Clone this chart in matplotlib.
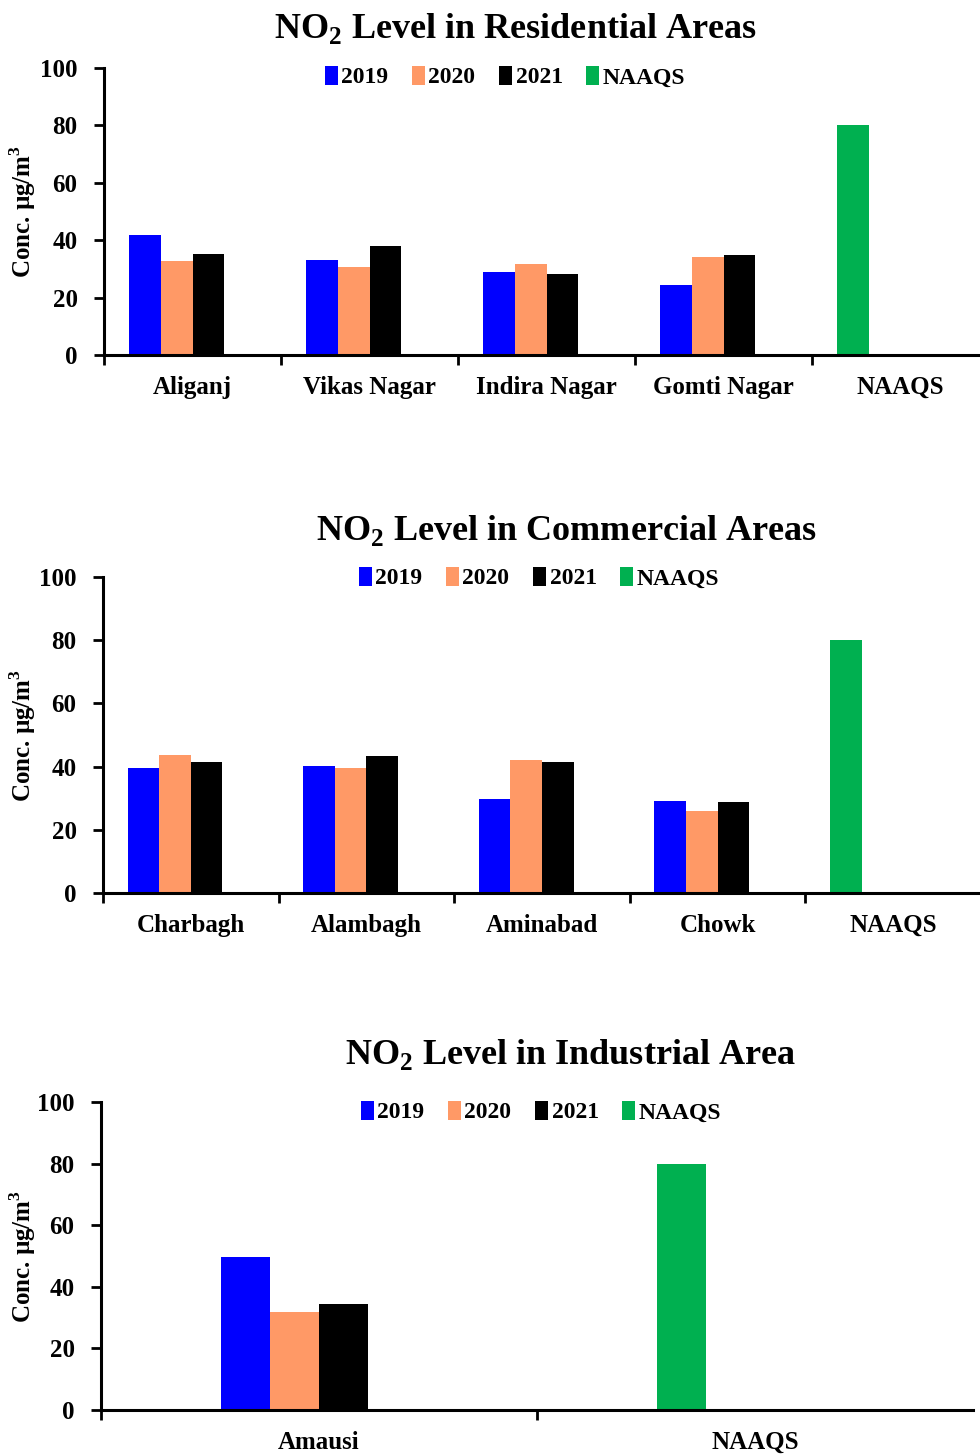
import matplotlib.pyplot as plt
import numpy as np

plt.rcParams['font.family'] = ['Liberation Serif', 'DejaVu Serif']
plt.rcParams['font.weight'] = 'bold'
plt.rcParams['mathtext.fontset'] = 'custom'
plt.rcParams['mathtext.rm'] = 'Liberation Serif'
plt.rcParams['mathtext.bf'] = 'Liberation Serif:bold'

years = ['2019', '2020', '2021']
colors = ['#0000FF', '#FF9966', '#000000']
naaqs_color = '#00B050'
naaqs_limit = 80

# residential areas
res_sites = ['Aliganj', 'Vikas Nagar', 'Indira Nagar', 'Gomti Nagar']
res_2019 = [41.8, 33.0, 28.9, 24.3]
res_2020 = [32.7, 30.6, 31.7, 34.1]
res_2021 = [35.2, 37.9, 28.1, 35.0]

# commercial areas
com_sites = ['Charbagh', 'Alambagh', 'Aminabad', 'Chowk']
com_2019 = [39.7, 40.2, 29.7, 29.2]
com_2020 = [43.6, 39.6, 42.0, 25.9]
com_2021 = [41.6, 43.5, 41.6, 28.7]

# industrial area
ind_sites = ['Amausi']
ind_2019 = [49.7]
ind_2020 = [31.9]
ind_2021 = [34.4]

W, H = 980, 1454
fig = plt.figure(figsize=(W / 100, H / 100), dpi=100)


def px_axes(left, top, right, bottom):
    ax = fig.add_axes([left / W, 1 - bottom / H, (right - left) / W, (bottom - top) / H])
    ax.yaxis.set_label_coords((38 - left) / (right - left), 0.5)
    return ax


def draw_panel(ax, sites, series, title, title_xy, legend_xy, bw):
    cats = sites + ['NAAQS']
    x = np.arange(len(cats))
    offsets = (np.arange(4) - 1.5) * bw
    handles = []
    for i, vals in enumerate(series):
        h = ax.bar(x[:-1] + offsets[i], vals, bw, color=colors[i], label=years[i])
        handles.append(h)
    # the standard sits in the first slot of its own group
    h = ax.bar(x[-1] + offsets[0], naaqs_limit, bw, color=naaqs_color, label='NAAQS')
    handles.append(h)

    ax.set_xlim(-0.5, len(cats) - 0.5)
    ax.set_ylim(0, 100)
    ax.set_yticks(range(0, 101, 20))
    # ticks between groups, names centred under each group
    ax.set_xticks(x - 0.5, minor=False)
    ax.set_xticklabels([])
    ax.set_xticks(x, minor=True)
    ax.set_xticklabels(cats, minor=True, fontsize=18, fontweight='bold')
    ax.tick_params(axis='x', which='major', length=7, width=2, direction='out')
    ax.tick_params(axis='x', which='minor', length=0, pad=15)
    ax.tick_params(axis='y', length=7, width=2, direction='out', pad=12, labelsize=18)
    for lbl in ax.get_yticklabels():
        lbl.set_fontweight('bold')
    for s in ['top', 'right']:
        ax.spines[s].set_visible(False)
    for s in ['left', 'bottom']:
        ax.spines[s].set_linewidth(2.2)
    ax.set_ylabel('Conc. µg/m$^\\mathbf{3}$', fontsize=18, fontweight='bold')

    fig.text(title_xy[0] / W, 1 - title_xy[1] / H, title, ha='center', va='center',
             fontsize=26, fontweight='bold')
    fig.legend(handles=handles, loc='center', bbox_to_anchor=(legend_xy[0] / W, 1 - legend_xy[1] / H),
               ncol=4, frameon=False, handlelength=0.55, handleheight=0.9,
               handletextpad=0.15, columnspacing=1.0, prop={'weight': 'bold', 'size': 17})


ax1 = px_axes(104, 68, 989, 355)
draw_panel(ax1, res_sites, [res_2019, res_2020, res_2021],
           'NO$_\\mathbf{2}$ Level in Residential Areas', (515, 28), (505, 77), 0.18)

ax2 = px_axes(103, 577, 981, 893)
draw_panel(ax2, com_sites, [com_2019, com_2020, com_2021],
           'NO$_\\mathbf{2}$ Level in Commercial Areas', (566, 531), (539, 578), 0.18)

ax3 = px_axes(101, 1102, 973, 1410)
draw_panel(ax3, ind_sites, [ind_2019, ind_2020, ind_2021],
           'NO$_\\mathbf{2}$ Level in Industrial Area', (570, 1054), (541, 1112), 0.112)

fig.savefig('out.png', dpi=100)
